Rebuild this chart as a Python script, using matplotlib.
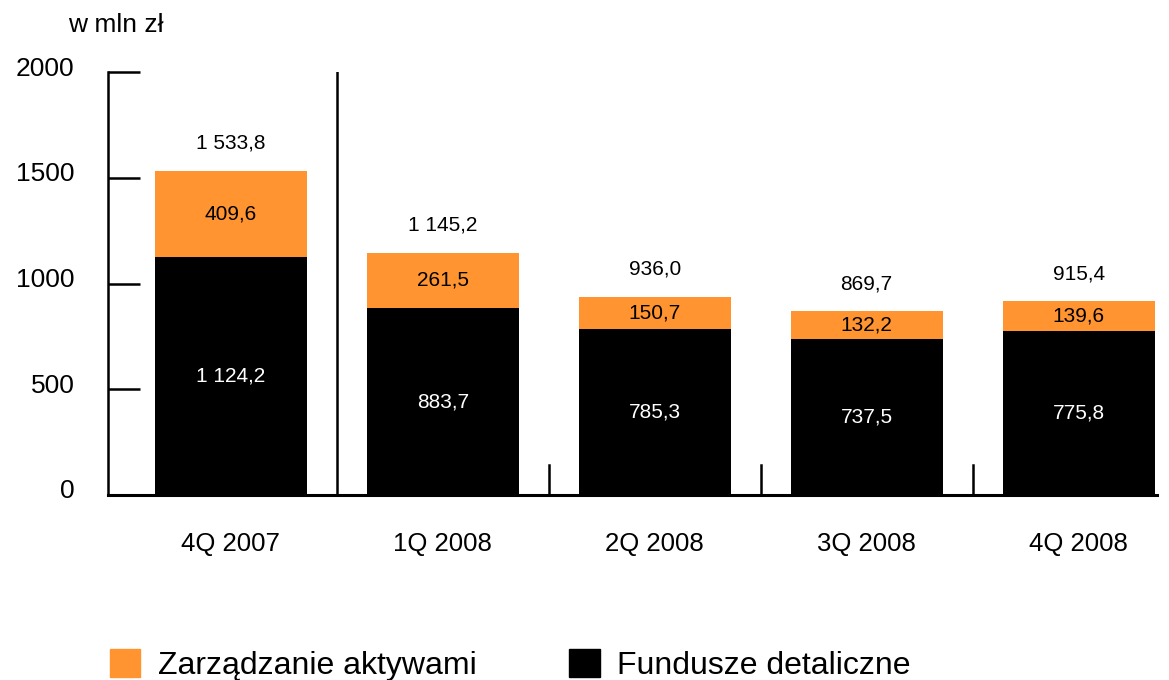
import matplotlib.pyplot as plt
from matplotlib.transforms import ScaledTranslation

plt.rcParams['font.family'] = ['Liberation Sans', 'DejaVu Sans']

# Data
quarters = ['4Q 2007', '1Q 2008', '2Q 2008', '3Q 2008', '4Q 2008']
fundusze = [1124.2, 883.7, 785.3, 737.5, 775.8]
aktywa = [409.6, 261.5, 150.7, 132.2, 139.6]
totals = [1533.8, 1145.2, 936.0, 869.7, 915.4]
yticks = [0, 500, 1000, 1500, 2000]

orange = '#FF9430'


def fmt(v):
    # Polish style: space as thousands separator, comma as decimal mark
    s = f'{v:,.1f}'
    return s.replace(',', ' ').replace('.', ',')


W, H = 1169, 680
fig = plt.figure(figsize=(W / 100, H / 100), dpi=100)
ax = fig.add_axes([108 / W, 1 - 495 / H, (1157 - 108) / W, (495 - 72) / H])

x = list(range(len(quarters)))
bw = 0.717
ax.bar(x, fundusze, width=bw, color='black', zorder=2)
ax.bar(x, aktywa, width=bw, bottom=fundusze, color=orange, zorder=2)

# labels inside and above the bars
for i in x:
    ax.text(i, fundusze[i] / 2, fmt(fundusze[i]), ha='center', va='center',
            color='white', fontsize=15)
    ax.text(i, fundusze[i] + aktywa[i] / 2, fmt(aktywa[i]), ha='center',
            va='center', color='black', fontsize=15)
    ax.annotate(fmt(totals[i]), (i, fundusze[i] + aktywa[i]),
                xytext=(0, 13), textcoords='offset points',
                ha='center', va='bottom', fontsize=15)

ax.set_xlim(-0.58, 4.37)
ax.set_ylim(0, 2000)

# separators between quarters
ax.axvline(0.5, ymin=0, ymax=1, color='black', lw=1.8)
for s in [1.5, 2.5, 3.5]:
    ax.axvline(s, ymin=0, ymax=30 / 423, color='black', lw=1.8)

for side in ['top', 'right']:
    ax.spines[side].set_visible(False)
ax.spines['left'].set_linewidth(1.8)
ax.spines['bottom'].set_linewidth(2.2)

ax.set_yticks(yticks)
ax.set_yticklabels([str(v) for v in yticks])
ax.tick_params(axis='y', direction='in', length=23, width=1.8, pad=24,
               labelsize=19)
for lab in ax.get_yticklabels():
    lab.set_transform(lab.get_transform() + ScaledTranslation(0, 0.06, fig.dpi_scale_trans))

ax.set_xticks(x)
ax.set_xticklabels(quarters)
ax.tick_params(axis='x', length=0, pad=27, labelsize=18.5)

fig.text(68 / W, 1 - 25 / H, 'w mln zł', ha='left', va='center', fontsize=19)

h1 = plt.Rectangle((0, 0), 1, 1, color=orange)
h2 = plt.Rectangle((0, 0), 1, 1, color='black')
fig.legend([h1, h2], ['Zarządzanie aktywami', 'Fundusze detaliczne'],
           loc='upper left', bbox_to_anchor=(110 / W, 1 - 649 / H),
           ncol=2, frameon=False, fontsize=23, borderpad=0, borderaxespad=0,
           handlelength=0.95, handleheight=0.95, handletextpad=0.55,
           columnspacing=2.9)

fig.savefig('out.png', dpi=100)
